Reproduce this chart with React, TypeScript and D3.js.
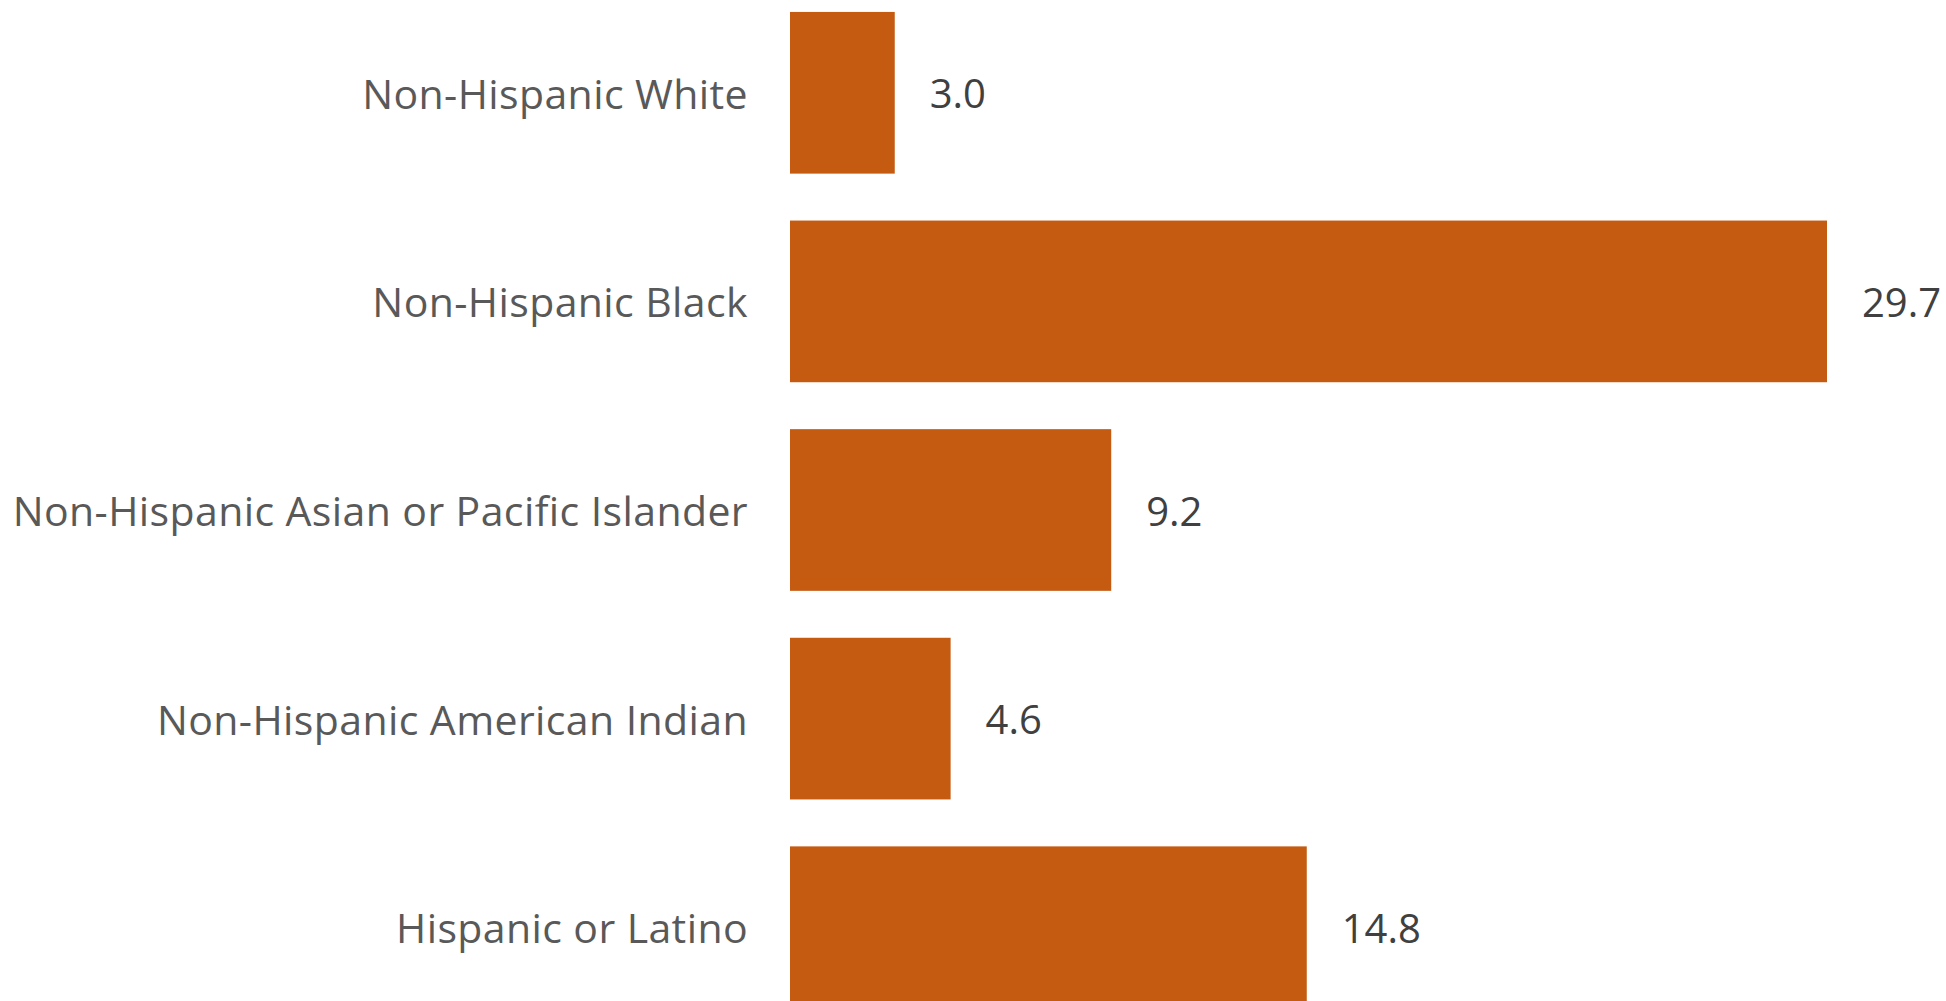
import React from "react";
import * as d3 from "d3";

const categories = [
  "Non-Hispanic White",
  "Non-Hispanic Black",
  "Non-Hispanic Asian or Pacific Islander",
  "Non-Hispanic American Indian",
  "Hispanic or Latino",
];
const values = [3.0, 29.7, 9.2, 4.6, 14.8];
const valueLabels = ["3.0", "29.7", "9.2", "4.6", "14.8"];

const W = 1946;
const H = 1001;

export default function App() {
  const x = d3.scaleLinear().domain([0, 29.7]).range([790, 1827]);
  const y = d3
    .scaleBand<string>()
    .domain(categories)
    .range([-11, 1031])
    .paddingInner(0.225)
    .paddingOuter(0.11);
  const font = "'Open Sans', 'Segoe UI', sans-serif";
  return (
    <svg
      width={W}
      height={H}
      style={{ position: "absolute", left: 0, top: 0, background: "#fff" }}
    >
      {categories.map((c, i) => {
        const yy = y(c)!;
        const bw = y.bandwidth();
        return (
          <g key={c}>
            <rect
              x={x(0)}
              y={yy}
              width={x(values[i]) - x(0)}
              height={bw}
              fill="#C55A11"
            />
            <text
              x={748}
              y={yy + bw / 2}
              textAnchor="end"
              dominantBaseline="central"
              fontFamily={font}
              fontSize={41}
              letterSpacing={0.4}
              fill="#595959"
            >
              {c}
            </text>
            <text
              x={x(values[i]) + 35}
              y={yy + bw / 2}
              dominantBaseline="central"
              fontFamily={font}
              fontSize={40}
              fill="#404040"
            >
              {valueLabels[i]}
            </text>
          </g>
        );
      })}
    </svg>
  );
}
